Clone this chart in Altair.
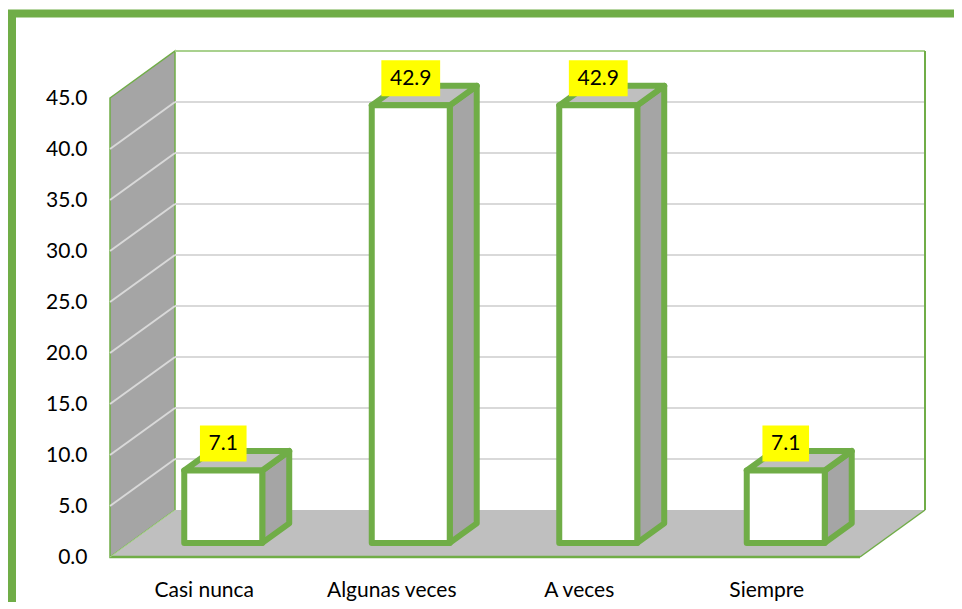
import json
import altair as alt
import pandas as pd

# ---------------- data ----------------
categories = ["Casi nunca", "Algunas veces", "A veces", "Siempre"]
values = [7.1, 42.9, 42.9, 7.1]
value_labels = ["7.1", "42.9", "42.9", "7.1"]
y_ticks = [0, 5, 10, 15, 20, 25, 30, 35, 40, 45]

# ---------------- geometry (oblique 3D projection) ----------------
PX_X = 187.5          # pixels per category unit
PX_Y = 10.2           # pixels per value unit
DX = 65 / PX_X        # full depth shift (x, category units)
DY = 47 / PX_Y        # full depth shift (y, value units)
X0, X1 = -0.5, 3.5    # floor front edge
YMAX = 45
D_FRONT, D_BACK = 0.30, 0.715
HALF = 0.208

PLOT_W, PLOT_H = 850, 545
X_MIN = -0.5 - 6 / PX_X
X_MAX = X_MIN + PLOT_W / PX_X
Y_MAX = PLOT_H / PX_Y

GREEN = "#70ad47"
LIGHT_GREEN = "#a9d18e"
DARK_GRAY = "#a5a5a5"
LIGHT_GRAY = "#bfbfbf"
GRID = "#d9d9d9"
FONT = "Lato"

xs = alt.Scale(domain=[X_MIN, X_MAX], nice=False, zero=False)
ys = alt.Scale(domain=[0, Y_MAX], nice=False, zero=False)

label_expr = json.dumps(categories) + "[datum.value]"
x_axis = alt.Axis(values=[0, 1, 2, 3], labelExpr=label_expr, grid=False, domain=False,
                  ticks=False, tickSize=0, labelFont=FONT, labelFontSize=21, labelColor="black",
                  labelPadding=22, labelOverlap=False, labelFlush=False, title=None)
y_axis = alt.Axis(values=y_ticks, format=".1f", grid=False, domain=False, ticks=False,
                  tickSize=0, labelFont=FONT, labelFontSize=21, labelColor="black",
                  labelPadding=17, labelOverlap=False, labelFlush=False, title=None)


def X(f):
    return alt.X(f, type="quantitative", scale=xs, axis=x_axis)


def Y(f):
    return alt.Y(f, type="quantitative", scale=ys, axis=y_axis, stack=False)


# ---------------- frame ----------------
frame_df = pd.DataFrame([{"x": -0.5 + (12 - 110) / PX_X, "x2": 4.4,
                          "y": (557 - 13.5) / PX_Y, "y2": -12}])
frame = alt.Chart(frame_df).mark_rect(fillOpacity=0, stroke=GREEN, strokeWidth=8).encode(
    x=X("x"), x2="x2", y=Y("y"), y2="y2")

# ---------------- left wall ----------------
wall_df = pd.DataFrame([
    {"x": X0, "top": YMAX, "bot": 0},
    {"x": X0 + DX, "top": YMAX + DY, "bot": DY},
])
wall = alt.Chart(wall_df).mark_area(orient="vertical", color=DARK_GRAY, stroke=GREEN,
                                    strokeWidth=1.5).encode(x=X("x"), y=Y("top"), y2="bot")

# ---------------- floor ----------------
floor_df = pd.DataFrame([
    {"y": 0, "xl": X0, "xr": X1},
    {"y": DY, "xl": X0 + DX, "xr": X1 + DX},
])
floor = alt.Chart(floor_df).mark_area(orient="horizontal", color=LIGHT_GRAY).encode(
    y=Y("y"), x=X("xl"), x2="xr")

# ---------------- gridlines ----------------
grid_rows = []
for v in y_ticks[1:-1]:
    grid_rows.append({"x": X0, "y": v, "x2": X0 + DX, "y2": v + DY})
    grid_rows.append({"x": X0 + DX, "y": v + DY, "x2": X1 + DX, "y2": v + DY})
grid = alt.Chart(pd.DataFrame(grid_rows)).mark_rule(color=GRID, strokeWidth=2).encode(
    x=X("x"), y=Y("y"), x2="x2", y2="y2")

# ---------------- edges ----------------
edge_rows = [
    {"x": X0 + DX, "y": YMAX + DY, "x2": X1 + DX, "y2": YMAX + DY, "c": "light", "w": 2},
    {"x": X1 + DX, "y": DY, "x2": X1 + DX, "y2": YMAX + DY, "c": "green", "w": 2},
    {"x": X0, "y": 0, "x2": X1, "y2": 0, "c": "green", "w": 2.5},
    {"x": X1, "y": 0, "x2": X1 + DX, "y2": DY, "c": "green", "w": 1.5},
    {"x": X0, "y": 0, "x2": X0 + DX, "y2": DY, "c": "light", "w": 1},
]
edges = alt.Chart(pd.DataFrame(edge_rows)).mark_rule().encode(
    x=X("x"), y=Y("y"), x2="x2", y2="y2",
    color=alt.Color("c:N", scale=alt.Scale(domain=["green", "light"], range=[GREEN, LIGHT_GREEN]),
                    legend=None),
    strokeWidth=alt.StrokeWidth("w:Q", scale=None, legend=None))

# ---------------- bars ----------------
side_rows, top_rows, front_rows, box_rows = [], [], [], []
for i, (cat, v, lab) in enumerate(zip(categories, values, value_labels)):
    side_rows.append({"id": i, "x": i + HALF + D_FRONT * DX, "top": v + D_FRONT * DY, "bot": D_FRONT * DY})
    side_rows.append({"id": i, "x": i + HALF + D_BACK * DX, "top": v + D_BACK * DY, "bot": D_BACK * DY})
    top_rows.append({"id": i, "y": v + D_FRONT * DY, "xl": i - HALF + D_FRONT * DX, "xr": i + HALF + D_FRONT * DX})
    top_rows.append({"id": i, "y": v + D_BACK * DY, "xl": i - HALF + D_BACK * DX, "xr": i + HALF + D_BACK * DX})
    front_rows.append({"id": i, "x": i - HALF + D_FRONT * DX, "x2": i + HALF + D_FRONT * DX,
                       "y": D_FRONT * DY, "y2": v + D_FRONT * DY})
    text_w = 21 * (0.58 * (len(lab) - 1) + 0.25)
    half_w = (text_w + 17) / 2 / PX_X
    cy = v + D_FRONT * DY + 27 / PX_Y
    cx = i + D_FRONT * DX
    box_rows.append({"label": lab, "cx": cx, "cy": cy, "x": cx - half_w, "x2": cx + half_w,
                     "y": cy - 18 / PX_Y, "y2": cy + 18 / PX_Y})

sides = alt.Chart(pd.DataFrame(side_rows)).mark_area(
    orient="vertical", color=DARK_GRAY, stroke=GREEN, strokeWidth=6, strokeJoin="round").encode(
    x=X("x"), y=Y("top"), y2="bot", detail="id:N")
tops = alt.Chart(pd.DataFrame(top_rows)).mark_area(
    orient="horizontal", color=LIGHT_GRAY, stroke=GREEN, strokeWidth=6, strokeJoin="round").encode(
    y=Y("y"), x=X("xl"), x2="xr", detail="id:N")
fronts = alt.Chart(pd.DataFrame(front_rows)).mark_rect(
    color="white", stroke=GREEN, strokeWidth=6, strokeJoin="round").encode(
    x=X("x"), x2="x2", y=Y("y"), y2="y2")

boxes_df = pd.DataFrame(box_rows)
boxes = alt.Chart(boxes_df).mark_rect(color="#ffff00").encode(
    x=X("x"), x2="x2", y=Y("y"), y2="y2")
texts = alt.Chart(boxes_df).mark_text(font=FONT, fontSize=21, color="black", align="center",
                                      baseline="middle", dy=1).encode(
    x=X("cx"), y=Y("cy"), text="label:N")

chart = alt.layer(frame, wall, floor, grid, edges, sides, tops, fronts, boxes, texts).properties(
    width=PLOT_W, height=PLOT_H,
    autosize=alt.AutoSizeParams(type="none"),
    padding={"left": 96, "top": 4, "right": 0, "bottom": 45},
    background="white",
).configure_view(strokeWidth=0)

chart.save("out.html", embed_options={"renderer": "svg", "actions": False})
